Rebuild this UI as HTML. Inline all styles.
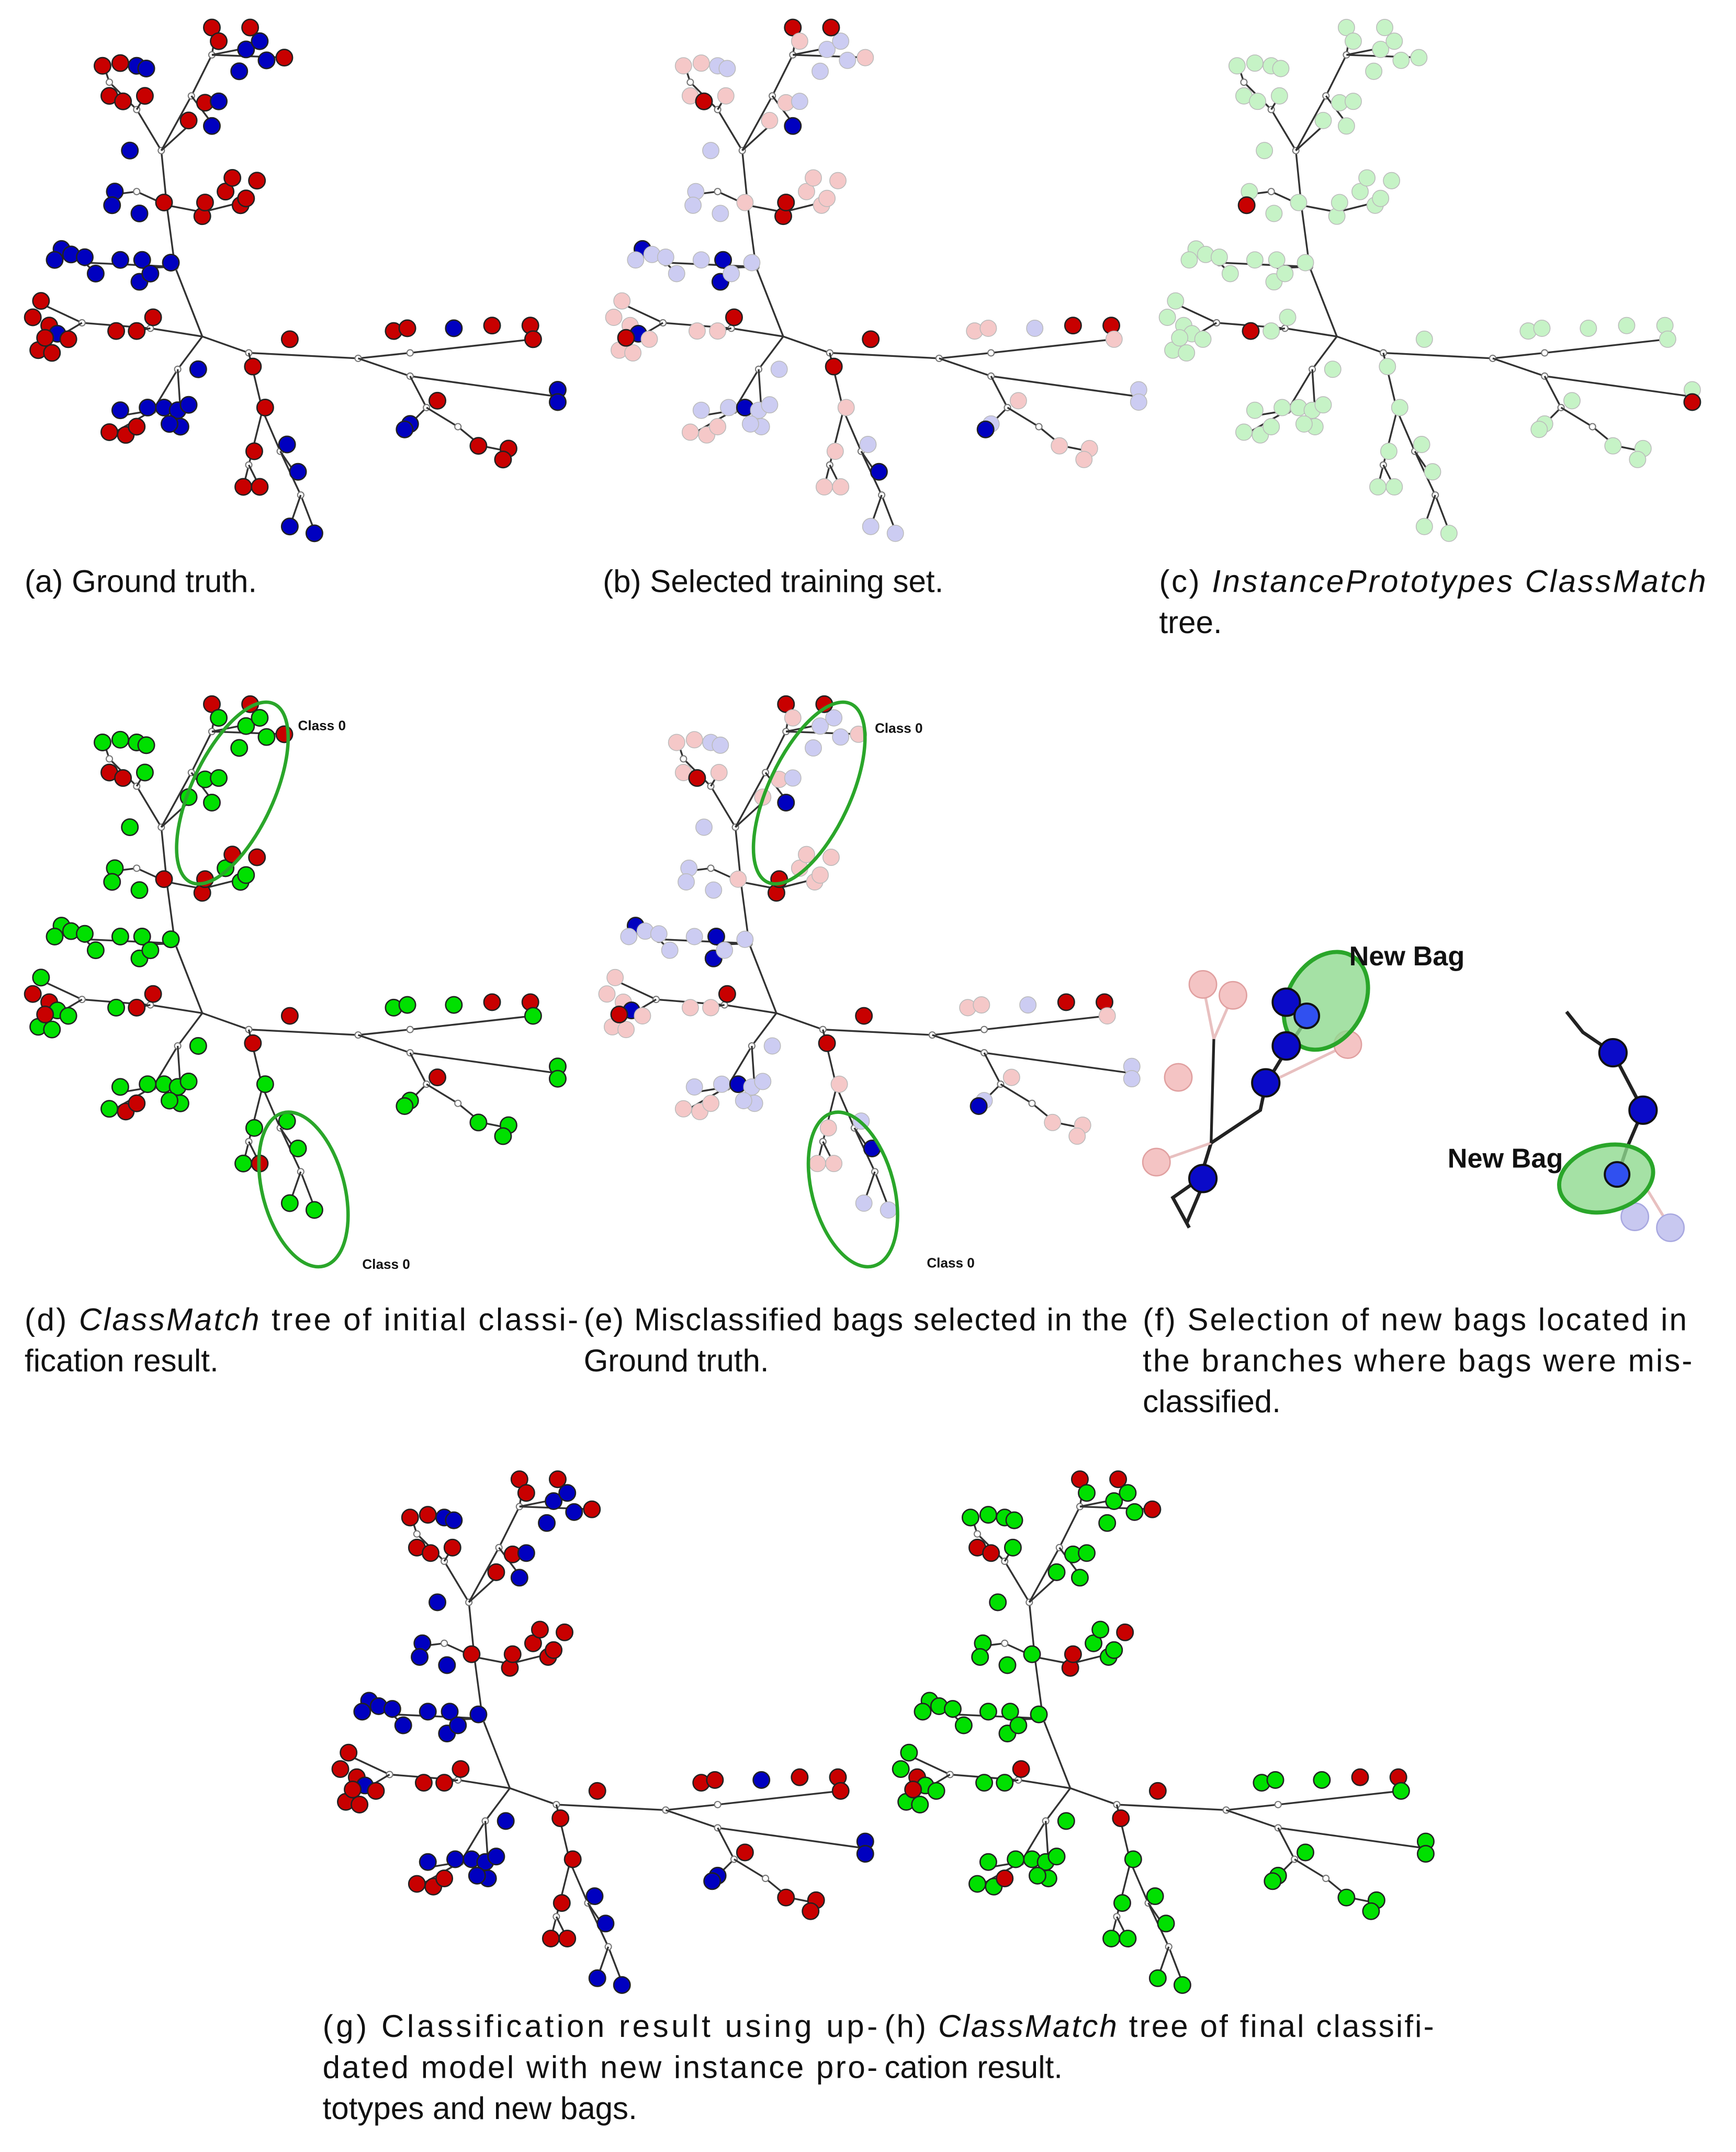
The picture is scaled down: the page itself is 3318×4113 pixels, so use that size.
<!DOCTYPE html>
<html><head><meta charset="utf-8">
<style>
html,body{margin:0;padding:0;background:#fff;}
svg{display:block;}
text{font-family:"Liberation Sans","DejaVu Sans",sans-serif;fill:#111;}
.cap{font-size:23px;}
.lbl{font-size:10px;font-weight:bold;}
</style></head>
<body>
<svg id="s" xmlns="http://www.w3.org/2000/svg" width="3318" height="4113" viewBox="0 0 1270 1574">
<rect width="1270" height="1574" fill="#fff"/>
<g id="trees"></g>
<!-- ellipses d -->
<g fill="none" stroke="#2aa62a" stroke-width="2.5">
<ellipse cx="170" cy="580" rx="30" ry="72" transform="rotate(25 170 580)"/>
<ellipse cx="222" cy="870" rx="30" ry="58" transform="rotate(-15 222 870)"/>
<ellipse cx="592" cy="580" rx="30" ry="72" transform="rotate(25 592 580)"/>
<ellipse cx="624" cy="870" rx="30" ry="58" transform="rotate(-15 624 870)"/>
</g>
<text class="lbl" x="218" y="534">Class 0</text>
<text class="lbl" x="265" y="928">Class 0</text>
<text class="lbl" x="640" y="536">Class 0</text>
<text class="lbl" x="678" y="927">Class 0</text>
<!-- panel f -->
<g>
<g stroke="#222" stroke-width="2.5" fill="none">
<polyline points="870,898 858,876 878,862 886,836 922,812 926,793 940,770 958,742"/>
<polyline points="868,895 882,862"/>
<polyline points="1146,740 1158,755 1180,770 1202,812 1190,840 1184,858"/>
</g>
<g stroke="#e8c0c0" stroke-width="2" fill="none">
<line x1="886" y1="836" x2="846" y2="850"/><line x1="888" y1="760" x2="880" y2="720"/>
<line x1="926" y1="793" x2="984" y2="765"/><line x1="888" y1="760" x2="902" y2="728"/>
<line x1="1205" y1="870" x2="1222" y2="898"/>
</g>
<line x1="886" y1="836" x2="888" y2="760" stroke="#222" stroke-width="2"/>
<circle cx="880" cy="720" r="10" fill="#f4c4c4" stroke="#e0a0a0"/>
<circle cx="902" cy="728" r="10" fill="#f4c4c4" stroke="#e0a0a0"/>
<circle cx="862" cy="788" r="10" fill="#f4c4c4" stroke="#e0a0a0"/>
<circle cx="846" cy="850" r="10" fill="#f4c4c4" stroke="#e0a0a0"/>
<circle cx="986" cy="764" r="10" fill="#f4c4c4" stroke="#e0a0a0"/>
<circle cx="1196" cy="890" r="10" fill="#c8c8f0" stroke="#a8a8e0"/>
<circle cx="1222" cy="898" r="10" fill="#c8c8f0" stroke="#a8a8e0"/>
<ellipse cx="970" cy="732" rx="28" ry="38" transform="rotate(30 970 732)" fill="#8fd98f" fill-opacity="0.8" stroke="#2aa62a" stroke-width="3"/>
<ellipse cx="1175" cy="862" rx="35" ry="24" transform="rotate(-15 1175 862)" fill="#8fd98f" fill-opacity="0.8" stroke="#2aa62a" stroke-width="3"/>
<g fill="#0a0ac8" stroke="#111" stroke-width="1.5">
<circle cx="941" cy="733" r="10"/><circle cx="926" cy="792" r="10"/><circle cx="941" cy="765" r="10"/>
<circle cx="880" cy="862" r="10"/><circle cx="1180" cy="770" r="10"/><circle cx="1202" cy="812" r="10"/>
</g>
<circle cx="956" cy="743" r="9" fill="#3050f0" stroke="#111" stroke-width="1.5"/>
<circle cx="1183" cy="859" r="9" fill="#3050f0" stroke="#111" stroke-width="1.5"/>
<text x="987" y="706" style="font-size:20px;font-weight:bold">New Bag</text>
<text x="1059" y="854" style="font-size:20px;font-weight:bold">New Bag</text>
</g>
<!-- captions -->
<g class="cap">
<text class="cap" x="18" y="433">(a) Ground truth.</text>
<text class="cap" x="441" y="433">(b) Selected training set.</text>
<text class="cap" x="848" y="433" textLength="400" lengthAdjust="spacing">(c) <tspan font-style="italic">InstancePrototypes ClassMatch</tspan></text>
<text class="cap" x="848" y="463">tree.</text>
<text class="cap" x="18" y="973" textLength="405" lengthAdjust="spacing">(d) <tspan font-style="italic">ClassMatch</tspan> tree of initial classi-</text>
<text class="cap" x="18" y="1003">fication result.</text>
<text class="cap" x="427" y="973" textLength="398" lengthAdjust="spacing">(e) Misclassified bags selected in the</text>
<text class="cap" x="427" y="1003">Ground truth.</text>
<text class="cap" x="836" y="973" textLength="398" lengthAdjust="spacing">(f) Selection of new bags located in</text>
<text class="cap" x="836" y="1003" textLength="402" lengthAdjust="spacing">the branches where bags were mis-</text>
<text class="cap" x="836" y="1033">classified.</text>
<text class="cap" x="236" y="1490" textLength="406" lengthAdjust="spacing">(g)  Classification  result  using  up-</text>
<text class="cap" x="236" y="1520" textLength="406" lengthAdjust="spacing">dated model with new instance pro-</text>
<text class="cap" x="236" y="1550">totypes and new bags.</text>
<text class="cap" x="647" y="1490" textLength="402" lengthAdjust="spacing">(h) <tspan font-style="italic">ClassMatch</tspan> tree of final classifi-</text>
<text class="cap" x="647" y="1520">cation result.</text>
</g>
</svg>
<script>
(function(){
var E=[
[148,246,182,258,262,262,300,258,390,248],
[262,262,300,275,408,290],
[300,275,312,298,300,310],
[312,298,335,312,352,326,372,330],
[182,258,192,300,205,330,220,362,230,388],
[220,362,212,385],[205,330,216,346],
[192,300,182,340,178,356],[182,340,190,356],
[148,246,130,270,112,300,88,304],[130,270,132,300,132,312],[112,300,84,316],
[148,246,110,240,60,236,30,222],[60,236,28,255],[110,240,100,242],
[148,246,128,195,62,192,42,184],[128,195,104,196],[62,192,70,200],
[128,195,122,150,100,140,84,142],[122,150,148,155,176,148],[148,155,150,150],
[122,150,118,110,100,80,80,60,76,48],[100,80,106,70],[118,110,140,90],
[118,110,140,70,155,40,158,22],[155,40,180,35,192,30],[140,70,155,90],[155,40,210,42]
];
var N=[
[75,48,'r'],[88,46,'r'],[100,48,'b'],[107,50,'b'],[80,70,'r'],[90,74,'r'],[106,70,'r'],[95,110,'b'],[138,88,'r'],[150,75,'r'],[160,74,'b'],[155,92,'b'],
[155,20,'r'],[160,30,'r'],[180,36,'b'],[190,30,'b'],[195,44,'b'],[208,42,'r'],[183,20,'r'],[175,52,'b'],
[84,140,'b'],[82,150,'b'],[102,156,'b'],[120,148,'r'],[148,158,'r'],[150,148,'r'],[165,140,'r'],[176,150,'r'],[180,145,'r'],[170,130,'r'],[188,132,'r'],
[45,182,'b'],[40,190,'b'],[52,186,'b'],[62,188,'b'],[70,200,'b'],[88,190,'b'],[104,190,'b'],[102,206,'b'],[110,200,'b'],[125,192,'b'],
[30,220,'r'],[24,232,'r'],[36,238,'r'],[42,244,'b'],[28,256,'r'],[38,258,'r'],[50,248,'r'],[85,242,'r'],[100,242,'r'],[112,232,'r'],[33,247,'r'],
[88,300,'b'],[108,298,'b'],[80,316,'r'],[92,318,'r'],[100,312,'r'],[120,298,'b'],[130,300,'b'],[132,312,'b'],[145,270,'b'],[138,296,'b'],[124,310,'b'],
[212,248,'r'],[185,268,'r'],[194,298,'r'],[186,330,'r'],[178,356,'r'],[190,356,'r'],[210,325,'b'],[218,345,'b'],[212,385,'b'],[230,390,'b'],
[288,242,'r'],[298,240,'r'],[332,240,'b'],[360,238,'r'],[388,238,'r'],[390,248,'r'],
[408,285,'b'],[408,294,'b'],[320,293,'r'],[300,310,'b'],[296,314,'b'],[350,326,'r'],[372,328,'r'],[368,336,'r']
];
var P=[['a',0,0],['b',425,0],['c',830,0],['d',0,495],['e',420,495],['g',225,1062],['h',635,1062]];
var C={r:'#c80000',b:'#0000c0',g:'#00e000',fr:'#f5c8c8',fb:'#ccccf2',fg:'#c6f3c6'};
function col(p,c,i){
 var h=(i*37+11)%13;
 if(p=='a'||p=='g')return c;
 if(p=='b')return h<3?c:'f'+c;
 if(p=='c')return (i==21||i==48||i==80)?'r':'fg';
 if(p=='d')return (c=='r'&&h<6)?'r':'g';
 if(p=='h')return (c=='r'&&h<4)?'r':'g';
 if(p=='e')return h<3?(c=='r'?'r':'b'):'f'+c;
}
var out='';
P.forEach(function(pp){
 var p=pp[0],dx=pp[1],dy=pp[2];
 out+='<g transform="translate('+dx+','+dy+')">';
 E.forEach(function(e){out+='<polyline points="'+e.join(',')+'" fill="none" stroke="#333" stroke-width="1.3"/>';
  for(var k=2;k<e.length-2;k+=2)out+='<circle cx="'+e[k]+'" cy="'+e[k+1]+'" r="2.3" fill="#fff" stroke="#777" stroke-width="0.8"/>';});
 N.forEach(function(n,i){var c=col(p,n[2],i);var f=c.charAt(0)=='f';
  out+='<circle cx="'+n[0]+'" cy="'+n[1]+'" r="6" fill="'+C[c]+'" stroke="'+(f?'#bbb':'#222')+'" stroke-width="'+(f?0.6:1)+'"/>';});
 out+='</g>';
});
document.getElementById('trees').innerHTML=out;
})();
</script>
</body></html>
